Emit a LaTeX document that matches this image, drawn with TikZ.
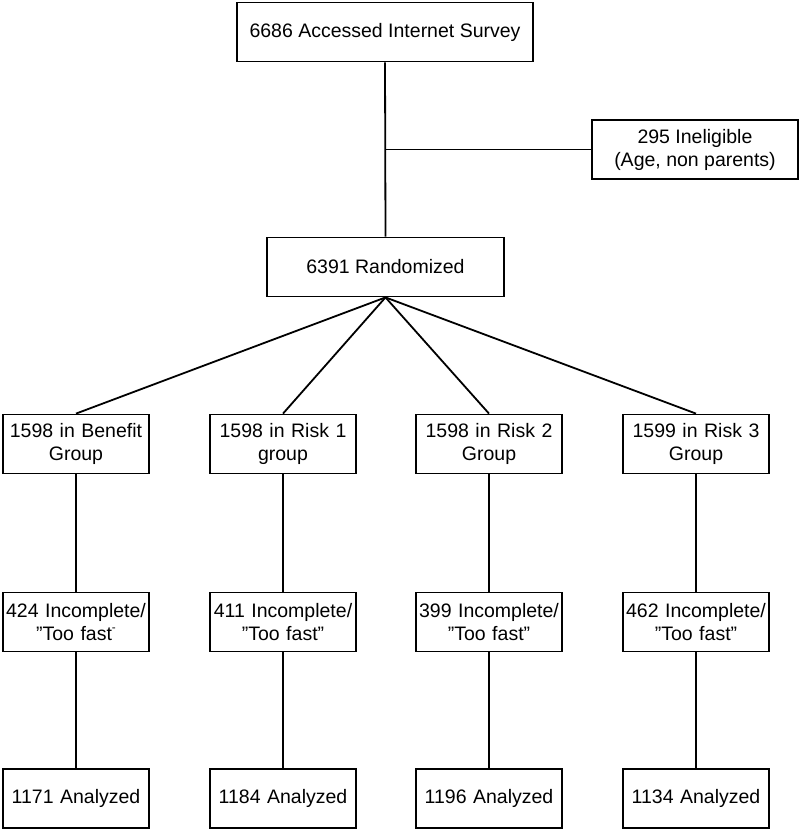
\documentclass[tikz,border=0pt]{standalone}
\usepackage{fontspec}
\setmainfont{Liberation Sans}
\begin{document}
\begin{tikzpicture}[x=1pt,y=-1pt,
  box/.style={draw, line width=1.8pt, inner sep=1pt, align=center,
    minimum height=59pt, font=\fontsize{19.5}{23}\selectfont},
  gbox/.style={box, minimum width=146pt, text width=144pt},
  link/.style={line width=1.8pt}]
\useasboundingbox (0,0) rectangle (800,830);
% top part
\node[box, minimum width=296pt] (top) at (385,32) {6686 Accessed Internet Survey};
\node[box, minimum width=206pt] (inel) at (695,149.5) {295 Ineligible\\(Age, non parents)};
\node[box, minimum width=237pt] (rand) at (385.5,267) {6391 Randomized};
\coordinate (br) at (385,149.5);
\draw[link] (top.south) -- (rand.north);
\draw[link] (br) -- (inel.west);
% groups
\node[gbox] (g1) at (76,444) {1598 in Benefit\\Group};
\node[gbox] (g2) at (283,444) {1598 in Risk 1\\group};
\node[gbox] (g3) at (489,444) {1598 in Risk 2\\Group};
\node[gbox] (g4) at (696,444) {1599 in Risk 3\\Group};
% incomplete
\node[gbox] (i1) at (76,622) {424 Incomplete/\\”Too fast\raisebox{0.9ex}{\scalebox{0.6}{-}}};
\node[gbox] (i2) at (283,622) {411 Incomplete/\\”Too fast”};
\node[gbox] (i3) at (489,622) {399 Incomplete/\\”Too fast”};
\node[gbox] (i4) at (696,622) {462 Incomplete/\\”Too fast”};
% analyzed
\node[gbox] (a1) at (76,798.5) {1171 Analyzed};
\node[gbox] (a2) at (283,798.5) {1184 Analyzed};
\node[gbox] (a3) at (489,798.5) {1196 Analyzed};
\node[gbox] (a4) at (696,798.5) {1134 Analyzed};
\foreach \k in {1,2,3,4}{
  \draw[link] (rand.south) -- (g\k.north);
  \draw[link] (g\k.south) -- (i\k.north);
  \draw[link] (i\k.south) -- (a\k.north);
}
\end{tikzpicture}
\end{document}
